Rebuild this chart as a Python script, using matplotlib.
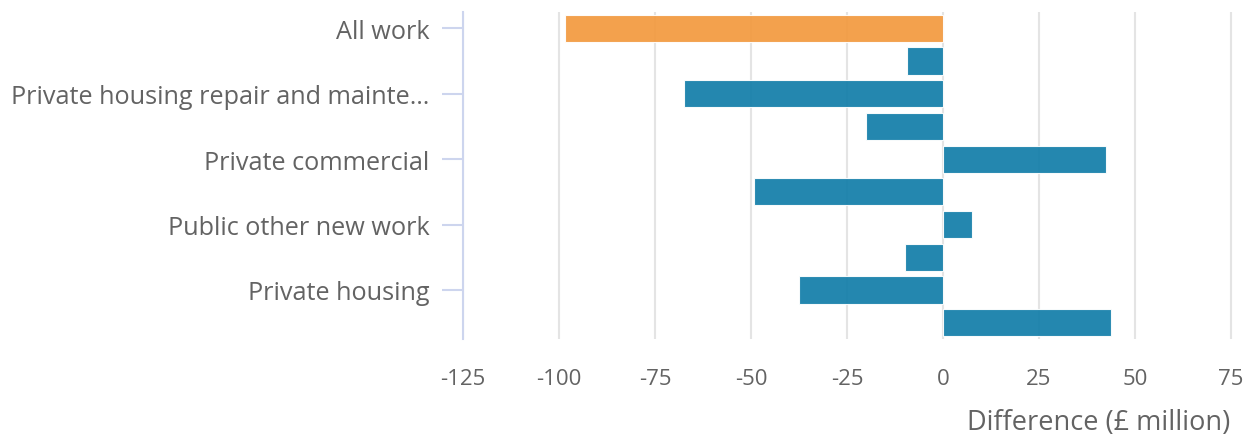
import matplotlib
matplotlib.use("Agg")
import matplotlib.pyplot as plt
import numpy as np

# values (difference, £ million), top to bottom
values = [-98.5, -9.5, -67.5, -20.0, 42.5, -49.3, 7.5, -10.0, -37.5, 43.8]
colors = ['#f39a3f'] + ['#137ea9'] * 9
# only every other row carries a label in the reference
tick_labels = ['All work', 'Private housing repair and mainte\u2026',
               'Private commercial', 'Public other new work', 'Private housing']
x_ticks = [-125, -100, -75, -50, -25, 0, 25, 50, 75]
x_label = 'Difference (\u00a3 million)'

TXT = '#636363'
AXC = '#cdd5ee'
plt.rcParams['font.family'] = ['Open Sans', 'DejaVu Sans']

fig = plt.figure(figsize=(12.45, 4.35), dpi=100)
ax = fig.add_axes([463 / 1245, 1 - 340 / 435, 779.5 / 1245, 327 / 435])

pos = np.arange(len(values))
ax.barh(pos, values, height=0.83, color=colors, alpha=0.93,
        edgecolor='white', linewidth=0.8, zorder=2)

ax.set_xlim(-125, 78)
ax.set_ylim(len(values) - 0.5, -0.5)
ax.set_xticks(x_ticks)
ax.set_xticklabels([str(t) for t in x_ticks])
ax.set_yticks(pos[::2])
ax.set_yticklabels(tick_labels)

ax.grid(axis='x', color='#e4e4e4', linewidth=1.5, zorder=0)
ax.set_axisbelow(True)
for s in ['top', 'right', 'bottom']:
    ax.spines[s].set_visible(False)
ax.spines['left'].set_color(AXC)
ax.spines['left'].set_linewidth(1.5)

ax.tick_params(axis='y', length=15, width=1.5, color=AXC, pad=9,
               labelsize=18.2, labelcolor=TXT)
ax.tick_params(axis='x', length=0, pad=21, labelsize=16, labelcolor=TXT)

ax.set_xlabel(x_label, fontsize=19.5, color=TXT)
ax.xaxis.set_label_coords(1 - 12 / 779.5, -0.21, transform=ax.transAxes)
ax.xaxis.label.set_horizontalalignment('right')
ax.xaxis.label.set_verticalalignment('top')

fig.savefig('out.png', dpi=100)
